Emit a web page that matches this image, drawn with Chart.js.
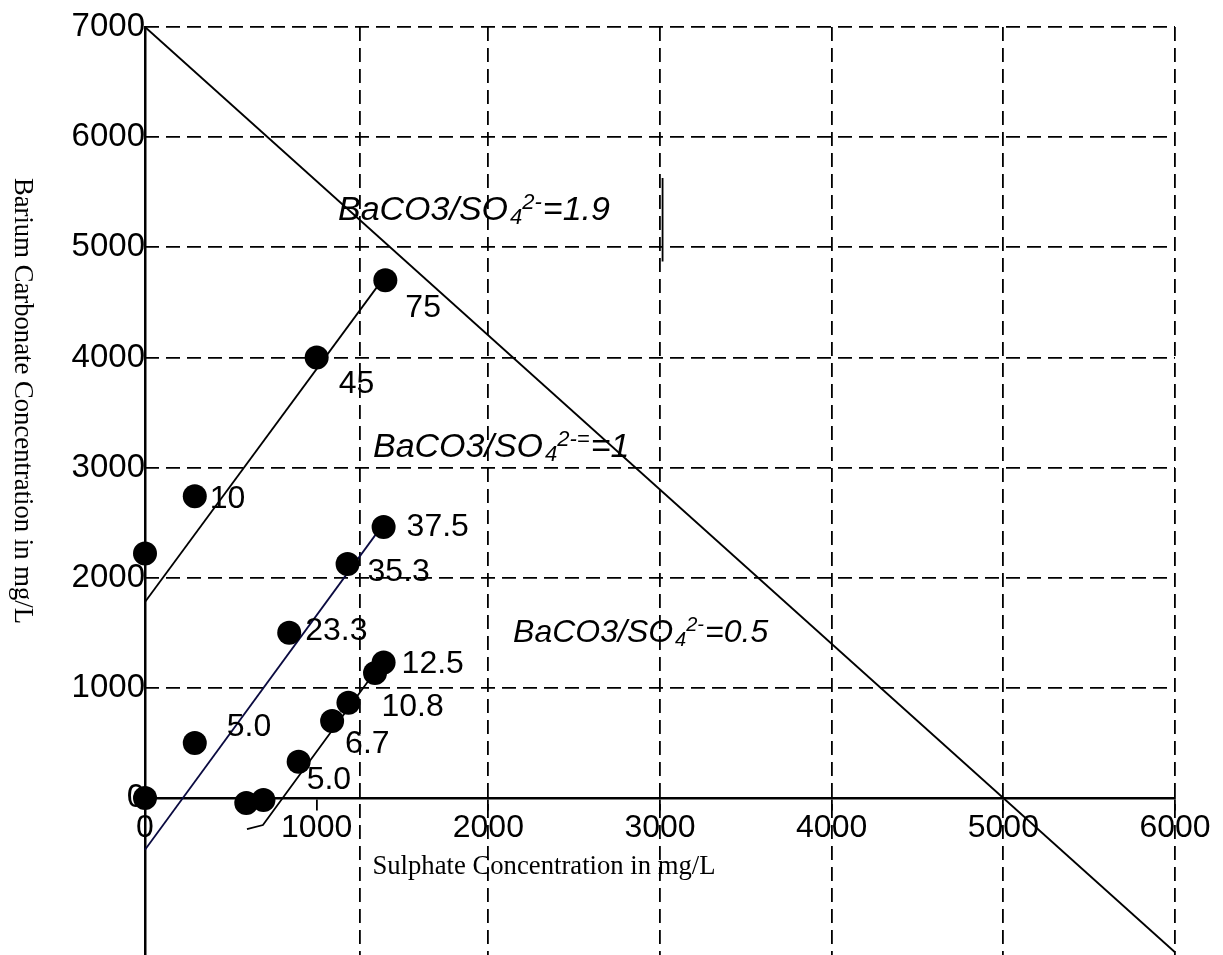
<!DOCTYPE html>
<html><head><meta charset="utf-8">
<script src="https://cdn.jsdelivr.net/npm/chart.js@4.4.1/dist/chart.umd.min.js"></script>
<style>html,body{margin:0;padding:0;background:#fff;overflow:hidden}#wrap{width:1223px;height:955px;position:relative}</style>
</head><body><div id="wrap"><canvas id="c"></canvas></div>
<script>
// ---- axis ticks ----
const xTicks = [0, 1000, 2000, 3000, 4000, 5000, 6000];
const yTicks = [0, 1000, 2000, 3000, 4000, 5000, 6000, 7000];
const extraGridX = [1250];
const xMax = 6000, yMaxV = 7000, yMinV = -1425;

// ---- measured series (Sulphate mg/L, Barium carbonate mg/L) ----
const s1x = [0, 290, 1000, 1400];
const s1y = [2220, 2740, 4000, 4700];
const s1labels = ['', '10', '45', '75'];

const s2x = [0, 290, 840, 1180, 1390];
const s2y = [0, 500, 1500, 2125, 2460];
const s2labels = ['', '5.0', '23.3', '35.3', '37.5'];

const s3x = [590, 690, 895, 1090, 1185, 1340, 1390];
const s3y = [-45, -18, 330, 700, 865, 1135, 1230];
const s3labels = ['', '', '5.0', '6.7', '10.8', '', '12.5'];

// ---- trend lines ----
const fit1x = [0, 1380];        const fit1y = [1780, 4700];
const fit2x = [0, 1350];        const fit2y = [-470, 2405];
const fit3x = [594, 687, 1370]; const fit3y = [-282, -245, 1210];
const ratioLineX = [0, 6000];   const ratioLineY = [7000, -1400];
const strayX = [3015, 3015];    const strayY = [5630, 4870];

// ---- ratio annotations ----
const ratioMain = ['BaCO3/SO', 'BaCO3/SO', 'BaCO3/SO'];
const ratioSub  = ['4', '4', '4'];
const ratioSup  = ['2-', '2-=', '2-'];
const ratioTail = ['=1.9', '=1', '=0.5'];
const ratioX = [1124, 1328, 2144];
const ratioY = [5247, 3096, 1416];

// ---- layout (pixel offsets / sizes, not data) ----
const s1off = [[0,0],[15,0],[22,24],[20,25]];
const s2off = [[0,0],[32,-18],[16,-4],[20,6],[23,-3]];
const s3off = [[0,0],[0,0],[8,16],[13,21],[33,2],[0,0],[18,-1]];
const ratioFont = [34, 34, 32];

const pts = (xs, ys) => xs.map((v, i) => ({x: v, y: ys[i]}));
const SANS = '"Liberation Sans", Arial, sans-serif';
const SERIF = '"Liberation Serif", "Times New Roman", serif';

const lineDs = (xs, ys, color, dash) => ({
  type: 'line', data: pts(xs, ys), borderColor: color, borderWidth: 1.8,
  borderDash: dash || [], pointRadius: 0, fill: false, tension: 0, clip: false
});
const dotDs = (xs, ys) => ({
  type: 'scatter', data: pts(xs, ys), pointRadius: 12, pointHoverRadius: 12,
  pointBackgroundColor: '#000', pointBorderWidth: 0, borderColor: '#000', showLine: false, clip: false
});

const textPlugin = {
  id: 'texts',
  afterDatasetsDraw(chart) {
    const ctx = chart.ctx;
    const xs = chart.scales.x, ys = chart.scales.y;
    ctx.save();
    ctx.fillStyle = '#000';
    // point labels
    const sets = [[0, s1labels, s1off], [1, s2labels, s2off], [2, s3labels, s3off]];
    ctx.font = '32px ' + SANS;
    ctx.textAlign = 'left';
    ctx.textBaseline = 'alphabetic';
    sets.forEach(([di, labels, off]) => {
      const meta = chart.getDatasetMeta(di);
      labels.forEach((t, j) => {
        if (!t) return;
        const el = meta.data[j];
        ctx.fillText(t, el.x + off[j][0], el.y + off[j][1] + 0.358 * 32);
      });
    });
    // ratio labels
    ratioMain.forEach((m, i) => {
      const fs = ratioFont[i], small = Math.round(fs * 0.64);
      let px = xs.getPixelForValue(ratioX[i]);
      const py = ys.getPixelForValue(ratioY[i]);
      ctx.font = 'italic ' + fs + 'px ' + SANS;
      ctx.fillText(m, px, py); px += ctx.measureText(m).width + 2;
      ctx.font = 'italic ' + small + 'px ' + SANS;
      ctx.fillText(ratioSub[i], px, py + 4); px += ctx.measureText(ratioSub[i]).width;
      ctx.fillText(ratioSup[i], px, py - 11); px += ctx.measureText(ratioSup[i]).width + 1;
      ctx.font = 'italic ' + fs + 'px ' + SANS;
      ctx.fillText(ratioTail[i], px, py);
    });
    // axis titles
    ctx.font = '26.7px ' + SERIF;
    ctx.textAlign = 'center';
    ctx.textBaseline = 'middle';
    ctx.fillText('Sulphate Concentration in mg/L', 544, 867);
    ctx.translate(22, 401);
    ctx.rotate(Math.PI / 2);
    ctx.fillText('Barium Carbonate Concentration in mg/L', 0, 0);
    ctx.restore();
  }
};

const tv = c => (c.tick ? c.tick.value : null);

new Chart(document.getElementById('c'), {
  data: {
    datasets: [
      dotDs(s1x, s1y), dotDs(s2x, s2y), dotDs(s3x, s3y),
      lineDs(fit1x, fit1y, '#000'),
      lineDs(fit2x, fit2y, '#0a0a40'),
      lineDs(fit3x, fit3y, '#000'),
      lineDs(ratioLineX, ratioLineY, '#000'),
      lineDs(strayX, strayY, '#000')
    ]
  },
  options: {
    responsive: true, maintainAspectRatio: false, animation: false,
    events: [],
    layout: {autoPadding: false, padding: {left: 145, right: 48, top: 27, bottom: 0}},
    plugins: {legend: {display: false}, tooltip: {enabled: false}},
    scales: {
      x: {
        type: 'linear', min: 0, max: xMax, position: {y: 0},
        afterBuildTicks: s => { s.ticks = xTicks.concat(extraGridX).sort((a, b) => a - b).map(v => ({value: v})); },
        afterFit: s => { s.height = 0; s.paddingLeft = 0; s.paddingRight = 0; },
        grid: {
          color: c => (tv(c) === 0 || tv(c) === 1000) ? 'rgba(0,0,0,0)' : '#000',
          lineWidth: 1.8, drawTicks: true, tickLength: 11, tickWidth: 1.8,
          tickColor: c => (xTicks.includes(tv(c)) && tv(c) !== 0) ? '#000' : 'rgba(0,0,0,0)',
          tickBorderDash: []
        },
        border: {display: true, color: '#000', width: 2.5, dash: [14, 7]},
        ticks: {
          autoSkip: false, maxRotation: 0, minRotation: 0, padding: 0, color: '#000',
          font: {family: SANS, size: 32},
          callback: v => (extraGridX.includes(v) ? '' : String(v))
        }
      },
      y: {
        type: 'linear', min: yMinV, max: yMaxV, position: {x: 0},
        afterBuildTicks: s => { s.ticks = yTicks.map(v => ({value: v})); },
        afterFit: s => { s.width = 0; s.paddingTop = 0; s.paddingBottom = 0; },
        grid: {
          color: c => (tv(c) === 0) ? 'rgba(0,0,0,0)' : '#000',
          lineWidth: 1.8, drawTicks: false
        },
        border: {display: true, color: '#000', width: 2.5, dash: [14, 7]},
        ticks: {
          autoSkip: false, padding: 0, color: '#000',
          font: {family: SANS, size: 33},
          callback: v => String(v)
        }
      }
    }
  },
  plugins: [textPlugin]
});
</script></body></html>
